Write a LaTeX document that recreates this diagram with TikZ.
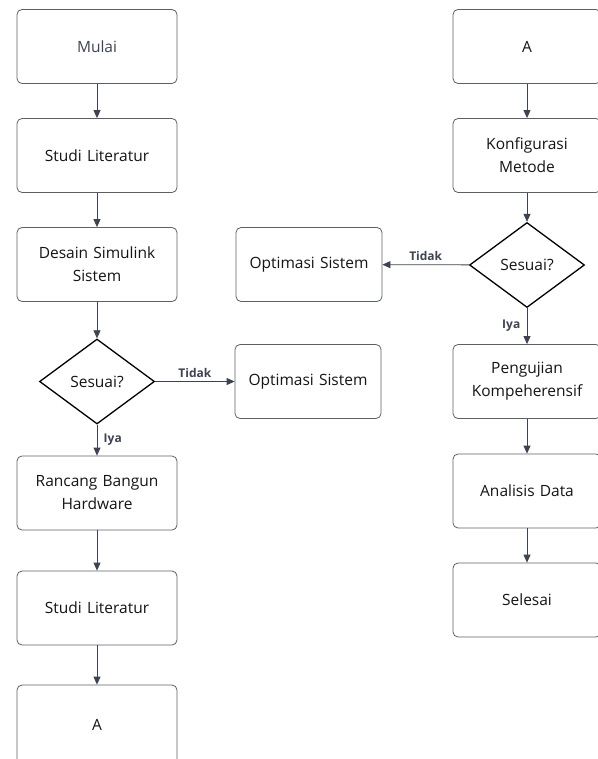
\documentclass[tikz,border=0pt]{standalone}
\usepackage{fontspec}
\setmainfont{Open Sans}
\usetikzlibrary{positioning,arrows.meta,shapes.geometric}
\definecolor{edgegray}{HTML}{5A5F68}
\definecolor{arrowgray}{HTML}{3D4350}
\definecolor{textgray}{HTML}{141414}
\tikzset{
    x=1pt,
    y=-1pt,
    block/.style = {
        draw=edgegray,
        shape=rectangle,
        rounded corners=5pt,
        minimum height=74pt,
        minimum width=160pt,
        text width=150pt,
        align=center,
        inner sep=0pt,
        line width=0.8pt,
        text=textgray,
        font=\fontsize{15.5}{23}\selectfont
    },
    decide/.style = {
        draw=black,
        shape=diamond,
        aspect=1.35,
        minimum height=85pt,
        minimum width=115pt,
        inner sep=0pt,
        line width=1.3pt,
        text=textgray,
        font=\fontsize{15.5}{23}\selectfont
    },
    lbl/.style = {
        font=\bfseries\fontsize{12}{14}\selectfont,
        text=arrowgray
    },
    >={Triangle[length=8pt,width=7pt]},
}
\begin{document}
\begin{tikzpicture}
                \useasboundingbox (0,0) rectangle (597,759);

                % left column
                \node[block,text=arrowgray] (mulai) at (97,46.5) {Mulai};
                \node[block] (studi) at (97,155.5) {Studi Literatur};
                \node[block] (desain) at (97,264.5) {Desain Simulink\\Sistem};
                \node[decide] (cek1) at (97,381.5) {Sesuai?};
                \node[block,minimum width=146pt,text width=140pt] (opt1) at (308,381.5) {Optimasi Sistem};
                \node[block] (rancang) at (97,493) {Rancang Bangun\\Hardware};
                \node[block] (studib) at (97,608) {Studi Literatur};
                \node[block,minimum height=80pt] (ka) at (97,725) {A};

                % right column
                \node[block,minimum width=148pt,text width=140pt] (kb) at (527,46.5) {A};
                \node[block,minimum width=148pt,text width=140pt] (konf) at (527,155.5) {Konfigurasi\\Metode};
                \node[decide] (cek2) at (527,265) {Sesuai?};
                \node[block,minimum width=146pt,text width=140pt] (opt2) at (309,264.5) {Optimasi Sistem};
                \node[block,minimum width=148pt,text width=140pt] (uji) at (527,381.5) {Pengujian\\Kompeherensif};
                \node[block,minimum width=148pt,text width=140pt] (analisis) at (527,491) {Analisis Data};
                \node[block,minimum width=148pt,text width=140pt] (selesai) at (527,600) {Selesai};

                \path[draw=arrowgray, line width=0.8pt, ->] (mulai) -- (studi);
                \path[draw=arrowgray, line width=0.8pt, ->] (studi) -- (desain);
                \path[draw=arrowgray, line width=0.8pt, ->] (desain) -- (cek1);
                \path[draw=arrowgray, line width=0.8pt, ->] (cek1) -- node[lbl, above] {Tidak} (opt1);
                \path[draw=arrowgray, line width=0.8pt, ->] (cek1) -- node[lbl, right=3pt] {Iya} (rancang);
                \path[draw=arrowgray, line width=0.8pt, ->] (rancang) -- (studib);
                \path[draw=arrowgray, line width=0.8pt, ->] (studib) -- (ka);

                \path[draw=arrowgray, line width=0.8pt, ->] (kb) -- (konf);
                \path[draw=arrowgray, line width=0.8pt, ->] (konf) -- (cek2);
                \path[draw=arrowgray, line width=0.8pt, ->] (cek2) -- node[lbl, above] {Tidak} (opt2);
                \path[draw=arrowgray, line width=0.8pt, ->] (cek2) -- node[lbl, left=3pt] {Iya} (uji);
                \path[draw=arrowgray, line width=0.8pt, ->] (uji) -- (analisis);
                \path[draw=arrowgray, line width=0.8pt, ->] (analisis) -- (selesai);
\end{tikzpicture}
\end{document}
